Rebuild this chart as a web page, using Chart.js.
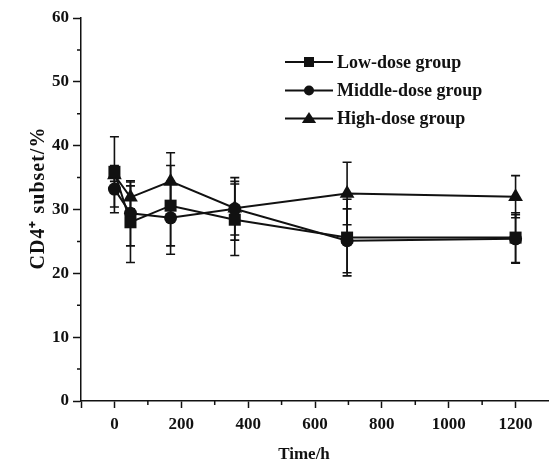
<!DOCTYPE html>
<html>
<head>
<meta charset="utf-8">
<script src="https://cdn.jsdelivr.net/npm/chart.js@4/dist/chart.umd.min.js"></script>
<style>
html,body{margin:0;padding:0;background:#fff;}
canvas{display:block;}
</style>
</head>
<body>
<canvas id="c" width="549" height="464"></canvas>
<script>
const times = [0, 48, 168, 360, 696, 1200];
const seriesNames = ['Low-dose group', 'Middle-dose group', 'High-dose group'];
const lowDose = [35.9, 28.0, 30.6, 28.4, 25.6, 25.6];
const lowDoseErr = [5.5, 6.3, 6.3, 5.6, 6.0, 3.9];
const middleDose = [33.2, 29.4, 28.7, 30.1, 25.1, 25.4];
const middleDoseErr = [3.7, 5.1, 5.7, 4.9, 5.0, 3.8];
const highDose = [35.4, 31.9, 34.4, 30.2, 32.5, 32.0];
const highDoseErr = [1.0, 1.8, 4.5, 4.2, 4.9, 3.3];
const xTickLabels = [0, 200, 400, 600, 800, 1000, 1200];
const yTickLabels = [0, 10, 20, 30, 40, 50, 60];
const xTitle = 'Time/h';
const yTitle = 'CD4\u207A subset/%';

const FONT = '"Liberation Serif", "Times New Roman", serif';
const pointStyles = ['rect', 'circle', 'triangle'];
const pointRadii = [8.5, 6.5, 8.5];

function pts(vals) { return times.map((t, i) => ({x: t, y: vals[i]})); }

const values = [lowDose, middleDose, highDose];
const errors = [lowDoseErr, middleDoseErr, highDoseErr];

const datasets = values.map((v, i) => ({
  label: seriesNames[i],
  data: pts(v),
  errors: errors[i],
  borderColor: '#111',
  backgroundColor: '#111',
  pointBackgroundColor: '#111',
  pointBorderColor: '#111',
  pointStyle: pointStyles[i],
  pointRadius: pointRadii[i],
  pointBorderWidth: 0,
  borderWidth: 2,
  tension: 0,
  fill: false,
  clip: false
}));

const errorBarPlugin = {
  id: 'errorBars',
  beforeDatasetsDraw(chart) {
    const ctx = chart.ctx;
    const xs = chart.scales.x, ys = chart.scales.y;
    ctx.save();
    ctx.strokeStyle = '#111';
    ctx.lineWidth = 1.6;
    chart.data.datasets.forEach(ds => {
      ds.data.forEach((p, i) => {
        const e = ds.errors[i];
        const px = xs.getPixelForValue(p.x);
        const top = ys.getPixelForValue(p.y + e);
        const bot = ys.getPixelForValue(p.y - e);
        ctx.beginPath();
        ctx.moveTo(px, top); ctx.lineTo(px, bot);
        ctx.moveTo(px - 4.5, top); ctx.lineTo(px + 4.5, top);
        ctx.moveTo(px - 4.5, bot); ctx.lineTo(px + 4.5, bot);
        ctx.stroke();
      });
    });
    ctx.restore();
  }
};

const decorPlugin = {
  id: 'decor',
  afterDraw(chart) {
    const ctx = chart.ctx;
    const xs = chart.scales.x, ys = chart.scales.y;
    const area = chart.chartArea;
    ctx.save();
    ctx.strokeStyle = '#111';
    ctx.lineWidth = 1.5;
    // minor ticks
    ctx.beginPath();
    for (let v = 100; v <= 1100; v += 200) {
      const px = xs.getPixelForValue(v);
      ctx.moveTo(px, area.bottom); ctx.lineTo(px, area.bottom + 4);
    }
    for (let v = 5; v <= 55; v += 10) {
      const py = ys.getPixelForValue(v);
      ctx.moveTo(area.left, py); ctx.lineTo(area.left - 4, py);
    }
    ctx.stroke();

    // axis titles
    ctx.fillStyle = '#111';
    ctx.font = 'bold 17px ' + FONT;
    ctx.textAlign = 'center';
    ctx.textBaseline = 'middle';
    ctx.fillText(xTitle, 304, 455);
    ctx.save();
    ctx.translate(39, 198);
    ctx.rotate(-Math.PI / 2);
    ctx.font = 'bold 20px ' + FONT;
    try { ctx.letterSpacing = '1px'; } catch (e) {}
    ctx.fillText(yTitle, 0, 0);
    try { ctx.letterSpacing = '0px'; } catch (e) {}
    ctx.restore();

    // legend
    const rows = [62, 90.5, 118.5];
    const sizes = [5, 5, 6.5];
    chart.data.datasets.forEach((ds, i) => {
      const y = rows[i];
      ctx.lineWidth = 2;
      ctx.beginPath();
      ctx.moveTo(285, y); ctx.lineTo(333, y);
      ctx.stroke();
      ctx.beginPath();
      const cx = 309, s = sizes[i];
      if (ds.pointStyle === 'rect') {
        ctx.rect(cx - s, y - s, 2 * s, 2 * s);
      } else if (ds.pointStyle === 'circle') {
        ctx.arc(cx, y, s, 0, Math.PI * 2);
      } else {
        ctx.moveTo(cx, y - s);
        ctx.lineTo(cx + s * 1.1, y + s * 0.7);
        ctx.lineTo(cx - s * 1.1, y + s * 0.7);
        ctx.closePath();
      }
      ctx.fill();
      ctx.font = 'bold 18px ' + FONT;
      ctx.textAlign = 'left';
      ctx.textBaseline = 'middle';
      ctx.fillText(ds.label, 337, y + 1);
    });
    ctx.restore();
  }
};

new Chart(document.getElementById('c'), {
  type: 'line',
  data: { datasets },
  plugins: [errorBarPlugin, decorPlugin],
  options: {
    responsive: false,
    animation: false,
    devicePixelRatio: 1,
    layout: { autoPadding: false, padding: { top: 18, right: 0, left: 0, bottom: 0 } },
    plugins: { legend: { display: false }, tooltip: { enabled: false } },
    scales: {
      x: {
        type: 'linear',
        min: -100, max: 1300,
        afterFit(s) { s.height = 63; s.paddingRight = 0; s.paddingLeft = 0; },
        border: { color: '#111', width: 1.5 },
        grid: {
          drawOnChartArea: false, drawTicks: true, tickLength: 7, tickWidth: 1.5,
          tickColor: c => (c.tick && (xTickLabels.includes(c.tick.value) || c.tick.value === -100)) ? '#111' : 'rgba(0,0,0,0)'
        },
        ticks: {
          stepSize: 100, autoSkip: false, maxRotation: 0, padding: 6,
          color: '#111',
          font: { family: FONT, size: 17, weight: 'bold' },
          callback: v => xTickLabels.includes(v) ? String(v) : ''
        }
      },
      y: {
        min: 0, max: 60,
        afterFit(s) { s.width = 81; s.paddingTop = 0; s.paddingBottom = 0; },
        border: { color: '#111', width: 1.5 },
        grid: {
          drawOnChartArea: false, drawTicks: true, tickLength: 8, tickWidth: 1.5,
          tickColor: c => (c.tick && yTickLabels.includes(c.tick.value)) ? '#111' : 'rgba(0,0,0,0)'
        },
        ticks: {
          stepSize: 5, autoSkip: false, padding: 4,
          color: '#111',
          font: { family: FONT, size: 17, weight: 'bold' },
          callback: v => yTickLabels.includes(v) ? String(v) : ''
        }
      }
    }
  }
});
</script>
</body>
</html>
